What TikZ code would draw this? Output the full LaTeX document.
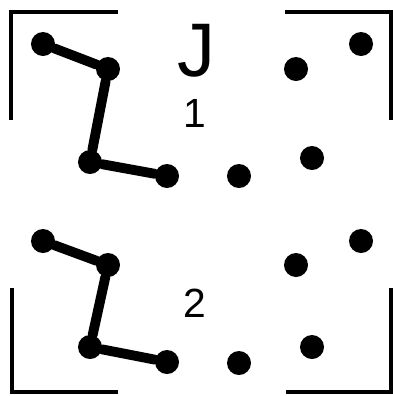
\documentclass[tikz,border=0pt]{standalone}
\usepackage{fontspec}
\setmainfont{Liberation Sans}
\usepackage{tikz}

\begin{document}
\begin{tikzpicture}[
  x=0.025cm, y=-0.025cm,
  dot/.style={circle, fill=black, inner sep=0pt, minimum size=0.6cm},
  bond/.style={draw, line width=7pt, line cap=round},
  frame/.style={draw, line width=3.4pt},
  lbl/.style={inner sep=0pt, font=\fontsize{29}{29}\selectfont}
]
\useasboundingbox (0,0) rectangle (393,396);
% corner brackets
\path [frame] (11,120) -- (11,12) -- (118,12);
\path [frame] (285,12) -- (391,12) -- (391,120);
\path [frame] (12,288) -- (12,392) -- (118,392);
\path [frame] (286,392) -- (391,392) -- (391,288);
% upper row
\node [dot] (a1) at (43,44) {};
\node [dot] (a2) at (108,69) {};
\node [dot] (a3) at (90,162) {};
\node [dot] (a4) at (167,176) {};
\node [dot] (a5) at (239,176) {};
\node [dot] (a6) at (312,158) {};
\node [dot] (a7) at (296,69) {};
\node [dot] (a8) at (361,44) {};
\path [bond] (a1) -- (a2) -- (a3) -- (a4);
% lower row
\node [dot] (b1) at (43,241) {};
\node [dot] (b2) at (108,265) {};
\node [dot] (b3) at (90,347) {};
\node [dot] (b4) at (167,362) {};
\node [dot] (b5) at (239,363) {};
\node [dot] (b6) at (312,347) {};
\node [dot] (b7) at (296,265) {};
\node [dot] (b8) at (361,241) {};
\path [bond] (b1) -- (b2) -- (b3) -- (b4);
% labels
\node [lbl, font=\fontsize{54}{54}\selectfont] (jlab) at (196,51) {J};
\node [lbl] (one) at (195,113) {1};
\node [lbl] (two) at (195,303) {2};
\end{tikzpicture}
\end{document}
